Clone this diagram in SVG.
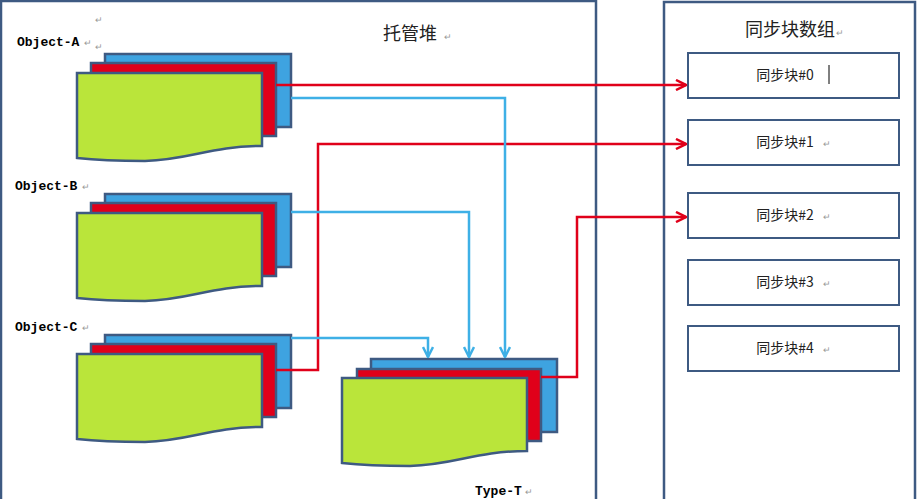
<svg xmlns="http://www.w3.org/2000/svg" width="917" height="499" viewBox="0 0 917 499">
<defs>
<style>
.frame{fill:#fff;stroke:#3e5a82;stroke-width:2.5}
.b{fill:#3ea3e0;stroke:#3e5a82;stroke-width:2.5}
.r{fill:#e0001a;stroke:#3e5a82;stroke-width:2.5}
.g{fill:#bae53a;stroke:#3e5a82;stroke-width:2.5}
.box{fill:#fff;stroke:#3e5a82;stroke-width:2}
.lbl{font-family:"Liberation Mono",monospace;font-weight:bold;font-size:13px;fill:#000}
.cn{font-family:"Noto Sans CJK SC",sans-serif;fill:#222}
.pm{font-family:"Liberation Sans",sans-serif;font-size:9px;fill:#999}
.rl{fill:none;stroke:#e0001a;stroke-width:2.5}
.bl{fill:none;stroke:#3eb0e6;stroke-width:2.5}
</style>
<marker id="ar" viewBox="0 0 12 12" refX="11" refY="6" markerWidth="12" markerHeight="12" markerUnits="userSpaceOnUse" orient="auto"><path d="M1,1 L11,6 L1,11" fill="none" stroke="#e0001a" stroke-width="2.5"/></marker>
<marker id="ab" viewBox="0 0 12 12" refX="11" refY="6" markerWidth="12" markerHeight="12" markerUnits="userSpaceOnUse" orient="auto"><path d="M1,1 L11,6 L1,11" fill="none" stroke="#3eb0e6" stroke-width="2.5"/></marker>
</defs>
<rect x="0" y="0" width="917" height="499" fill="#fff"/>
<rect id="heap" class="frame" x="1" y="1" width="595" height="510"/>
<rect id="syncarray" class="frame" x="664" y="2" width="251" height="510"/>
<text class="cn" x="410" y="40" font-size="18" text-anchor="middle">托管堆</text><text class="pm" x="444" y="40">↵</text>
<text class="cn" x="790" y="36" font-size="18" text-anchor="middle">同步块数组</text><text class="pm" x="836" y="36">↵</text>

<g id="objA">
<rect class="b" x="105" y="54" width="186" height="73"/>
<rect class="r" x="91" y="63" width="185" height="73"/>
<path class="g" d="M77,73 H262 V146 C210,146 190,160 145,161 C110,161 95,160 77,158 Z"/>
<text class="lbl" x="17" y="46">Object-A</text><text class="pm" x="84" y="46">↵</text>
<text class="pm" x="95" y="23">↵</text><text class="pm" x="95" y="50">↵</text>
</g>
<g id="objB">
<rect class="b" x="105" y="194" width="186" height="73"/>
<rect class="r" x="91" y="203" width="185" height="73"/>
<path class="g" d="M77,213 H262 V286 C210,286 190,300 145,301 C110,301 95,300 77,298 Z"/>
<text class="lbl" x="15" y="190">Object-B</text><text class="pm" x="82" y="190">↵</text>
</g>
<g id="objC">
<rect class="b" x="105" y="335" width="186" height="73"/>
<rect class="r" x="91" y="344" width="185" height="73"/>
<path class="g" d="M77,354 H262 V427 C210,427 190,441 145,442 C110,442 95,441 77,439 Z"/>
<text class="lbl" x="15" y="331">Object-C</text><text class="pm" x="82" y="331">↵</text>
</g>
<g id="typeT">
<rect class="b" x="371" y="359" width="186" height="73"/>
<rect class="r" x="357" y="369" width="184" height="72"/>
<path class="g" d="M342,378 H527 V451 C475,451 455,465 410,466 C375,466 360,465 342,463 Z"/>
<text class="lbl" x="475" y="495">Type-T</text><text class="pm" x="525" y="495">↵</text>
</g>
<g id="blocks" class="cn" font-size="14">
<g id="sb0"><rect class="box" x="688" y="53" width="211" height="45"/><text x="785" y="80" text-anchor="middle">同步块#0</text><line x1="829" y1="65" x2="829" y2="84" stroke="#000" stroke-width="1"/></g>
<g id="sb1"><rect class="box" x="688" y="120" width="211" height="45"/><text x="785" y="147" text-anchor="middle">同步块#1</text><text class="pm" x="823" y="147">↵</text></g>
<g id="sb2"><rect class="box" x="688" y="193" width="211" height="45"/><text x="785" y="220" text-anchor="middle">同步块#2</text><text class="pm" x="823" y="220">↵</text></g>
<g id="sb3"><rect class="box" x="688" y="260" width="211" height="45"/><text x="785" y="287" text-anchor="middle">同步块#3</text><text class="pm" x="823" y="287">↵</text></g>
<g id="sb4"><rect class="box" x="688" y="326" width="211" height="45"/><text x="785" y="353" text-anchor="middle">同步块#4</text><text class="pm" x="823" y="353">↵</text></g>
</g>
<g id="connectors">
<path class="rl" d="M276,85 H686" marker-end="url(#ar)"/>
<path class="rl" d="M276,370 H318 V144 H686" marker-end="url(#ar)"/>
<path class="rl" d="M541,377 H577 V217 H686" marker-end="url(#ar)"/>
<path class="bl" d="M291,98 H505 V357" marker-end="url(#ab)"/>
<path class="bl" d="M291,212 H469 V357" marker-end="url(#ab)"/>
<path class="bl" d="M291,338 H428 V357" marker-end="url(#ab)"/>
</g>
</svg>
